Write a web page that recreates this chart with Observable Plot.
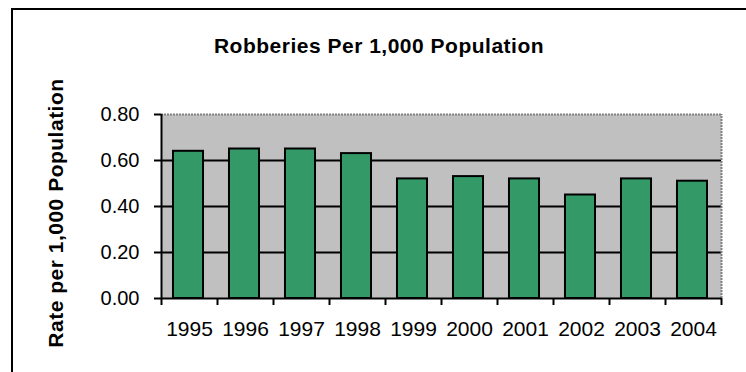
<!DOCTYPE html>
<html>
<head>
<meta charset="utf-8">
<script src="https://cdn.jsdelivr.net/npm/d3@7"></script>
<script src="https://cdn.jsdelivr.net/npm/@observablehq/plot@0.6"></script>
<style>
  html, body { margin: 0; padding: 0; background: #fff; }
  #wrap { position: relative; width: 746px; height: 372px; overflow: hidden; }
  #border { position: absolute; left: 11px; top: 8px; width: 900px; height: 500px; border: 2px solid #000; box-sizing: border-box; pointer-events: none; }
  #chart { position: absolute; left: 0; top: 0; }
</style>
</head>
<body>
<div id="wrap"><div id="chart"></div><div id="border"></div></div>
<script>
const years = ["1995","1996","1997","1998","1999","2000","2001","2002","2003","2004"];
const rates = [0.64, 0.65, 0.65, 0.63, 0.52, 0.53, 0.52, 0.45, 0.52, 0.51];
const yTicks = [0, 0.2, 0.4, 0.6, 0.8];
const gridValues = [0.2, 0.4, 0.6];
const title = "Robberies Per 1,000 Population";
const yLabel = "Rate per 1,000 Population";

const data = years.map((y, i) => ({year: y, rate: rates[i]}));

const W = 746, H = 372;
const mL = 161, mR = 25, mT = 114, mB = 74;
const step = (W - mL - mR) / years.length;
const font = "Arial, 'Liberation Sans', Helvetica, sans-serif";

const chart = Plot.plot({
  width: W,
  height: H,
  marginLeft: mL,
  marginRight: mR,
  marginTop: mT,
  marginBottom: mB,
  style: {fontFamily: font, color: "#000", background: "transparent", overflow: "visible"},
  x: {type: "band", domain: years, paddingInner: 0.464, paddingOuter: 0.232, round: false, axis: null},
  y: {domain: [0, 0.8], axis: null},
  marks: [
    Plot.frame({fill: "#c0c0c0", stroke: null}),
    Plot.ruleY(gridValues, {stroke: "#000", strokeWidth: 2}),
    Plot.ruleY([0.8], {stroke: "#808080", strokeWidth: 2, strokeDasharray: "2,1"}),
    Plot.ruleX([years[years.length - 1]], {x: d => d, dx: step / 2, y1: 0, y2: 0.8, stroke: "#808080", strokeWidth: 2, strokeDasharray: "2,1"}),
    Plot.barY(data, {x: "year", y: "rate", fill: "#339966", stroke: "#000", strokeWidth: 2, dx: -1}),
    Plot.ruleY([0], {stroke: "#000", strokeWidth: 2}),
    Plot.ruleX([years[0]], {x: d => d, dx: -step / 2, y1: 0, y2: 0.8, stroke: "#000", strokeWidth: 2}),
    Plot.axisY({ticks: yTicks, tickFormat: d => d.toFixed(2), tickSize: 7, tickPadding: 15, fontSize: 20, label: null, strokeWidth: 2}),
    Plot.axisX({tickSize: 7, tickFormat: () => "", dx: -step / 2, label: null, strokeWidth: 2}),
    Plot.axisX({ticks: [years[years.length - 1]], tickSize: 7, tickFormat: () => "", dx: step / 2, label: null, strokeWidth: 2}),
    Plot.axisX({tickSize: 0, tickPadding: 23, fontSize: 21, label: null}),
    Plot.text([title], {frameAnchor: "top", dx: -62.5, dy: -62, lineAnchor: "bottom", fontSize: 21, fontWeight: "bold", fill: "#000"}),
    Plot.text([yLabel], {frameAnchor: "left", textAnchor: "middle", dx: -99, dy: 6.5, rotate: -90, lineAnchor: "bottom", fontSize: 21, fontWeight: "bold", fill: "#000"})
  ]
});
chart.querySelectorAll("text").forEach(t => {
  if (t.textContent === title || t.textContent === yLabel) t.style.letterSpacing = "0.5px";
});
document.getElementById("chart").appendChild(chart);
</script>
</body>
</html>
